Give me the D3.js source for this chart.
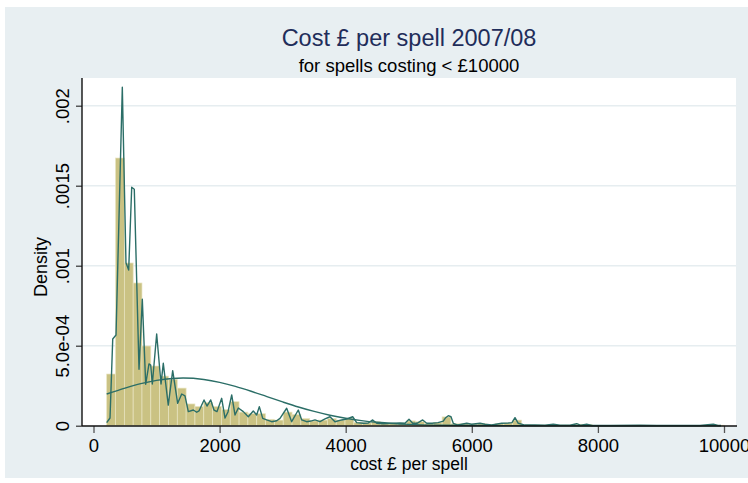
<!DOCTYPE html>
<html><head><meta charset="utf-8">
<script src="https://cdn.jsdelivr.net/npm/d3@7"></script>
<style>
html,body{margin:0;padding:0;background:#fff;}
text{font-family:"Liberation Sans",Arial,Helvetica,sans-serif;}
</style></head>
<body><svg id="c" width="748" height="483"></svg>
<script>
const title = "Cost £ per spell 2007/08";
const subtitle = "for spells costing < £10000";
const xTitle = "cost £ per spell";
const yTitle = "Density";
const xTicks = [0, 2000, 4000, 6000, 8000, 10000];
const xTickLabels = ["0", "2000", "4000", "6000", "8000", "10000"];
const yTicks = [0, 0.0005, 0.001, 0.0015, 0.002];
const yTickLabels = ["0", "5.0e-04", ".001", ".0015", ".002"];

// histogram: bins start at 209, width 140
const binStart = 209;
const binWidth = 140;
const binDensity = [
  3.23e-4, 1.673e-3, 1.017e-3, 8.92e-4, 4.98e-4, 3.73e-4, 3.1e-4, 2.9e-4, 2.35e-4, 1.36e-4,
  1.2e-4, 1.45e-4, 1.2e-4, 1.0e-4, 1.5e-4, 8.5e-5, 7.5e-5, 7.5e-5, 4.0e-5, 3.5e-5,
  8.5e-5, 7.0e-5, 4.5e-5, 3.0e-5, 3.5e-5, 4.5e-5, 3.5e-5, 4.5e-5, 2.0e-5, 1.8e-5,
  2.5e-5, 1.3e-5, 1.5e-5, 1.6e-5, 3.0e-5, 2.5e-5, 1.5e-5, 2.0e-5, 5.5e-5, 1.2e-5,
  1.2e-5, 1.0e-5, 1.2e-5, 6e-6, 1.2e-5, 1.7e-5, 3.5e-5, 5e-6, 4e-6, 3e-6,
  8e-6, 3e-6, 3e-6, 9e-6, 7e-6, 2e-6, 1.5e-6, 1.5e-6, 2e-6, 1.5e-6,
  2.5e-6, 1.5e-6, 1e-6, 1.5e-6, 1e-6, 1.5e-6, 1e-6, 2e-6, 8e-6, 3e-6
];

// kernel density line
const kdeX = [209,262,305,357,457,515,558,606,647,722,774,828,880,907,933,1002,1071,1107,1186,1256,
  1335,1399,1451,1504,1583,1637,1673,1753,1800,1859,1911,1959,2033,2086,2133,2192,2244,2297,2376,2455,
  2534,2588,2630,2684,2747,2826,2906,2958,3064,3143,3248,3302,3381,3445,3513,3592,3672,3751,3830,3936,
  4016,4111,4174,4279,4358,4428,4492,4596,4755,4861,4940,5004,5063,5131,5221,5285,5369,5464,5548,5586,
  5627,5670,5706,5781,5919,5998,6130,6209,6315,6474,6579,6637,6685,6737,6844,7002,7161,7292,7399,7557,
  7664,7732,7822,7906,8192,8668,8937,9302,9619,9830,9905,9952];
const kdeY = [1.9e-5,4.8e-5,5.42e-4,5.67e-4,2.115e-3,1.019e-3,9.73e-4,1.49e-3,1.478e-3,3.53e-4,7.9e-4,2.59e-4,3.86e-4,3.79e-4,2.61e-4,5.73e-4,2.61e-4,3.9e-4,1.29e-4,3.44e-4,
  1.4e-4,1.98e-4,1.86e-4,8.8e-5,9.8e-5,8.4e-5,9.2e-5,1.61e-4,1.23e-4,1.61e-4,9.8e-5,8.8e-5,1.71e-4,4.8e-5,8.6e-5,1.92e-4,6.7e-5,1.11e-4,8.8e-5,5.6e-5,
  9.2e-5,6.7e-5,1.19e-4,4.6e-5,3.6e-5,2.5e-5,3.1e-5,4.6e-5,1.09e-4,2.5e-5,9.8e-5,3.6e-5,2.5e-5,2.9e-5,3.6e-5,2.5e-5,4.2e-5,5.6e-5,2.5e-5,3.6e-5,
  4.2e-5,5.6e-5,1.9e-5,1.5e-5,1.7e-5,3.6e-5,1.5e-5,1.25e-5,1.5e-5,1.7e-5,1.5e-5,4.0e-5,1.5e-5,1.5e-5,3.6e-5,1.5e-5,1.5e-5,1.9e-5,2.9e-5,5.0e-5,
  6.25e-5,5.6e-5,1.5e-5,4e-6,1.5e-5,9e-6,1.5e-5,9e-6,4e-6,1.5e-5,1.7e-5,1.9e-5,5.0e-5,1.5e-5,4e-6,4e-6,2.5e-6,9e-6,2.5e-6,2.5e-6,
  1.25e-5,2.5e-6,9e-6,1e-6,1e-6,2.5e-6,1e-6,1e-6,1e-6,9e-6,1e-6,1e-6];

// normal density curve
const normX = [209,500,750,1000,1250,1420,1750,2000,2250,2500,2750,3000,3250,3500,3750,4000,4250,4500,4750,5000,5500,6000,7000,8000,9000,9952];
const normY = [1.98e-4,2.35e-4,2.627e-4,2.834e-4,2.953e-4,2.977e-4,2.888e-4,2.711e-4,2.458e-4,2.152e-4,1.818e-4,1.486e-4,1.171e-4,8.93e-5,6.56e-5,4.67e-5,3.2e-5,2.12e-5,1.36e-5,8.4e-6,2.9e-6,8.6e-7,1e-8,0,0,0];

const svg = d3.select("#c");
const W = 748, H = 483;
const plotL = 82, plotR = 736, plotT = 78, plotB = 426;
const lineCol = "#2b6e67";

svg.append("rect").attr("x",5).attr("y",7).attr("width",W-5).attr("height",471).attr("fill","#e8eff2");
svg.append("rect").attr("x",plotL).attr("y",plotT).attr("width",plotR-plotL).attr("height",plotB-plotT).attr("fill","#ffffff");

const x = d3.scaleLinear().domain([0,10000]).range([93.5,724]);
const y = d3.scaleLinear().domain([0,0.002]).range([425.7,105.7]);

// grid
svg.append("g").selectAll("line").data(yTicks.filter(d=>d>0)).join("line")
  .attr("x1",plotL).attr("x2",plotR).attr("y1",d=>y(d)).attr("y2",d=>y(d))
  .attr("stroke","#e6edf0").attr("stroke-width",1.4);

// bars
svg.append("g").selectAll("rect").data(binDensity).join("rect")
  .attr("x",(d,i)=>x(binStart+i*binWidth))
  .attr("width",(d,i)=>x(binStart+(i+1)*binWidth)-x(binStart+i*binWidth))
  .attr("y",d=>y(d)).attr("height",d=>y(0)-y(d))
  .attr("fill","#cac283").attr("stroke","#e9e5c2").attr("stroke-width",0.7);

// normal
const normPts = normX.map((v,i)=>[v,normY[i]]);
svg.append("path").datum(normPts)
  .attr("d",d3.line().x(d=>x(d[0])).y(d=>y(d[1])).curve(d3.curveMonotoneX))
  .attr("fill","none").attr("stroke",lineCol).attr("stroke-width",1.4);

// kde
const kdePts = kdeX.map((v,i)=>[v,kdeY[i]]);
svg.append("path").datum(kdePts)
  .attr("d",d3.line().x(d=>x(d[0])).y(d=>y(d[1])))
  .attr("fill","none").attr("stroke",lineCol).attr("stroke-width",1.4).attr("stroke-linejoin","round");

// axes
const xAxis = d3.axisBottom(x).tickValues(xTicks).tickFormat((d,i)=>xTickLabels[i]).tickSize(7).tickPadding(6);
const gx = svg.append("g").attr("transform",`translate(0,${plotB})`).call(xAxis);
gx.select(".domain").remove();
gx.selectAll(".tick line").attr("stroke","#555").attr("stroke-width",1.3);
gx.selectAll(".tick text").attr("font-size",18.5).attr("fill","#000").attr("font-family","Liberation Sans, Arial, sans-serif");

const yAxis = d3.axisLeft(y).tickValues(yTicks).tickFormat((d,i)=>yTickLabels[i]).tickSize(6).tickPadding(0);
const gy = svg.append("g").attr("transform",`translate(${plotL},0)`).call(yAxis);
gy.select(".domain").remove();
gy.selectAll(".tick line").attr("stroke","#333").attr("stroke-width",1.2);
gy.selectAll(".tick text").attr("font-size",18.5).attr("fill","#000")
  .attr("font-family","Liberation Sans, Arial, sans-serif")
  .attr("text-anchor","middle").attr("dy",null).attr("x",null)
  .attr("transform","translate(-13,0) rotate(-90)");

svg.append("line").attr("x1",plotL).attr("x2",plotR+1).attr("y1",plotB).attr("y2",plotB).attr("stroke","#111").attr("stroke-width",1.4);
svg.append("line").attr("x1",plotL).attr("x2",plotL).attr("y1",plotT).attr("y2",plotB).attr("stroke","#111").attr("stroke-width",1.4);

// titles
svg.append("text").attr("x",409).attr("y",46).attr("text-anchor","middle").attr("font-size",23.5).attr("fill","#1f2d5a").text(title);
svg.append("text").attr("x",409).attr("y",71.5).attr("text-anchor","middle").attr("font-size",18.5).attr("fill","#000").text(subtitle);
svg.append("text").attr("x",409).attr("y",470).attr("text-anchor","middle").attr("font-size",17.5).attr("fill","#000").text(xTitle);
svg.append("text").attr("transform","translate(47,267) rotate(-90)").attr("text-anchor","middle").attr("font-size",18).attr("fill","#000").text(yTitle);
</script></body></html>
